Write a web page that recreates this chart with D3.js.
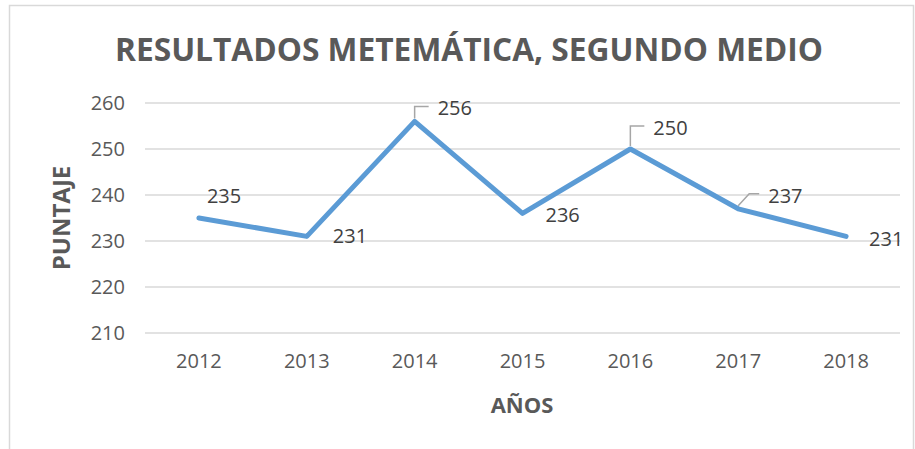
<!DOCTYPE html>
<html>
<head>
<meta charset="utf-8">
<script src="https://cdn.jsdelivr.net/npm/d3@7"></script>
<style>
  body { margin: 0; background: #fff; }
  text { font-family: "Open Sans", sans-serif; }
</style>
</head>
<body>
<div id="chart"></div>
<script>
// data
var years = ["2012", "2013", "2014", "2015", "2016", "2017", "2018"];
var scores = [235, 231, 256, 236, 250, 237, 231];
var yTicks = [210, 220, 230, 240, 250, 260];

// label placement (offset from point) and leader elbow
var labelLayout = [
  {dx: 8,  dy: -22, leader: null},
  {dx: 26, dy: 0,   leader: null},
  {dx: 23, dy: -13, leader: 0},
  {dx: 23, dy: 2,   leader: null},
  {dx: 23, dy: -21, leader: 0},
  {dx: 30, dy: -13, leader: 11},
  {dx: 23, dy: 3,   leader: null}
];

var W = 915, H = 449;

var svg = d3.select("#chart")
  .append("svg")
    .attr("width", W)
    .attr("height", H);

// chart border
svg.append("rect")
  .attr("x", 9.5).attr("y", 5.5)
  .attr("width", 904).attr("height", 470)
  .style("fill", "#fff")
  .style("stroke", "#d9d9d9")
  .style("stroke-width", 1.5);

var x = d3.scaleBand()
  .domain(years)
  .range([145, 900]);

var y = d3.scaleLinear()
  .domain([210, 260])
  .range([333, 103]);

// gridlines
svg.append("g")
  .selectAll("line")
  .data(yTicks)
  .enter()
  .append("line")
    .attr("x1", 145).attr("x2", 900)
    .attr("y1", function(d) { return y(d); })
    .attr("y2", function(d) { return y(d); })
    .style("stroke", "#d9d9d9")
    .style("stroke-width", 1.5);

// y axis
var yAxis = svg.append("g")
  .attr("transform", "translate(125,0)")
  .call(d3.axisLeft(y).tickValues(yTicks).tickSize(0).tickPadding(0));
yAxis.select(".domain").remove();
yAxis.selectAll("text")
  .style("font-family", "Open Sans")
  .style("font-size", "20px")
  .style("fill", "#595959");

// x axis
var xAxis = svg.append("g")
  .attr("transform", "translate(0,354)")
  .call(d3.axisBottom(x).tickSize(0).tickPadding(0));
xAxis.select(".domain").remove();
xAxis.selectAll("text")
  .style("font-family", "Open Sans")
  .style("font-size", "20px")
  .style("fill", "#595959");

// line
var line = d3.line()
  .x(function(d, i) { return x(years[i]) + x.bandwidth() / 2; })
  .y(function(d) { return y(d); });

svg.append("path")
  .datum(scores)
  .attr("d", line)
  .style("fill", "none")
  .style("stroke", "#5b9bd5")
  .style("stroke-width", 5)
  .style("stroke-linejoin", "round")
  .style("stroke-linecap", "round");

// data labels
var pts = scores.map(function(d, i) {
  return {v: d, px: x(years[i]) + x.bandwidth() / 2, py: y(d), l: labelLayout[i]};
});

svg.append("g")
  .selectAll("path")
  .data(pts.filter(function(p) { return p.l.leader !== null; }))
  .enter()
  .append("path")
    .attr("d", function(p) {
      var ly = p.py + p.l.dy - 2;
      return "M" + p.px + "," + (p.py - 3) +
             "L" + (p.px + p.l.leader) + "," + ly +
             "L" + (p.px + p.l.dx - 9) + "," + ly;
    })
    .style("fill", "none")
    .style("stroke", "#a6a6a6")
    .style("stroke-width", 1.5);

svg.append("g")
  .selectAll("text")
  .data(pts)
  .enter()
  .append("text")
    .attr("x", function(p) { return p.px + p.l.dx; })
    .attr("y", function(p) { return p.py + p.l.dy; })
    .attr("dy", "0.35em")
    .style("font-size", "20px")
    .style("fill", "#404040")
    .text(function(p) { return p.v; });

// title
svg.append("text")
  .attr("x", 469)
  .attr("y", 61)
  .attr("text-anchor", "middle")
  .attr("textLength", 708)
  .attr("lengthAdjust", "spacingAndGlyphs")
  .style("font-size", "33px")
  .style("font-weight", "bold")
  .style("fill", "#595959")
  .text("RESULTADOS METEMÁTICA, SEGUNDO MEDIO");

// axis titles
svg.append("text")
  .attr("x", 522)
  .attr("y", 413)
  .attr("text-anchor", "middle")
  .style("font-size", "22px")
  .style("font-weight", "bold")
  .style("fill", "#595959")
  .text("AÑOS");

svg.append("text")
  .attr("transform", "translate(70,218) rotate(-90)")
  .attr("text-anchor", "middle")
  .style("font-size", "24px")
  .style("font-weight", "bold")
  .style("fill", "#595959")
  .text("PUNTAJE");
</script>
</body>
</html>
